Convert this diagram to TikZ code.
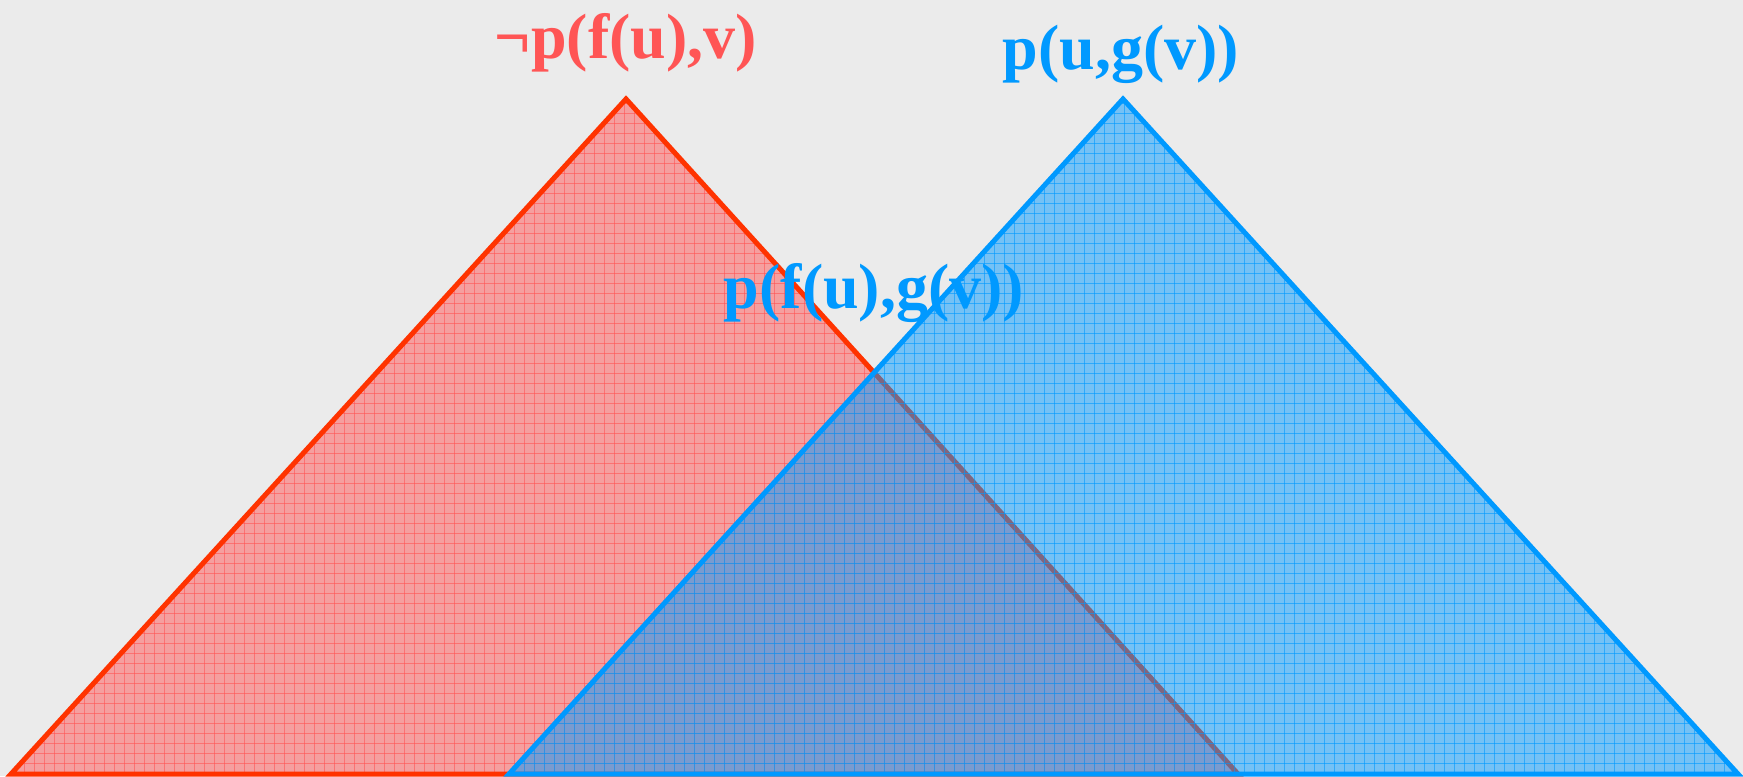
\documentclass[tikz,border=0pt]{standalone}
\usepackage{fontspec}
\setmainfont{Liberation Serif}
\usepackage{tikz}
\definecolor{BgGray}{RGB}{235,235,235}
\definecolor{RedEdge}{RGB}{255,51,0}
\definecolor{RedFill}{RGB}{255,85,85}
\definecolor{BlueEdge}{RGB}{0,153,255}

\begin{document}
\begin{tikzpicture}[x=0.5pt,y=-0.5pt]
                                \fill[BgGray] (0,0) rectangle (1743,776);
                                \useasboundingbox (0,0) rectangle (1743,776);
                                \coordinate (redleft) at (11,774);
                                \coordinate (redtop) at (626,99);
                                \coordinate (redright) at (1238,774);
                                \coordinate (blueleft) at (509,774);
                                \coordinate (bluetop) at (1123,99);
                                \coordinate (blueright) at (1738,774);
                                \fill[RedFill, opacity=0.5]
                                (redleft) -- (redtop) -- (redright) -- cycle;
                                \begin{scope}
                                \clip (redleft) -- (redtop) -- (redright) -- cycle;
                                \foreach \gx in {4,14,...,1244}
                                \draw[RedFill, opacity=0.6, line width=0.5pt] (\gx,90) -- (\gx,776);
                                \foreach \gy in {93,103,...,783}
                                \draw[RedFill, opacity=0.6, line width=0.5pt] (0,\gy) -- (1250,\gy);
                                \end{scope}
                                \draw[RedEdge, line width=2.5pt, line join=miter]
                                (redleft) -- (redtop) -- (redright) -- cycle;
                                \fill[BlueEdge, opacity=0.5]
                                (blueleft) -- (bluetop) -- (blueright) -- cycle;
                                \begin{scope}
                                \clip (blueleft) -- (bluetop) -- (blueright) -- cycle;
                                \foreach \gx in {504,514,...,1744}
                                \draw[BlueEdge, opacity=0.6, line width=0.5pt] (\gx,90) -- (\gx,776);
                                \foreach \gy in {93,103,...,783}
                                \draw[BlueEdge, opacity=0.6, line width=0.5pt] (500,\gy) -- (1743,\gy);
                                \end{scope}
                                \draw[BlueEdge, line width=2.5pt, line join=miter]
                                (blueleft) -- (bluetop) -- (blueright) -- cycle;
                                \node[anchor=base, inner sep=0, text=RedFill,
                                font=\bfseries\fontsize{32}{38}\selectfont]
                                (neglabel) at (626,58) {¬p(f(u),v)};
                                \node[anchor=base, inner sep=0, text=BlueEdge,
                                font=\bfseries\fontsize{32}{38}\selectfont]
                                (poslabel) at (1121,69) {p(u,g(v))};
                                \node[anchor=base, inner sep=0, text=BlueEdge,
                                font=\bfseries\fontsize{32}{38}\selectfont]
                                (unilabel) at (874,308) {p(f(u),g(v))};
                        \end{tikzpicture}
\end{document}
